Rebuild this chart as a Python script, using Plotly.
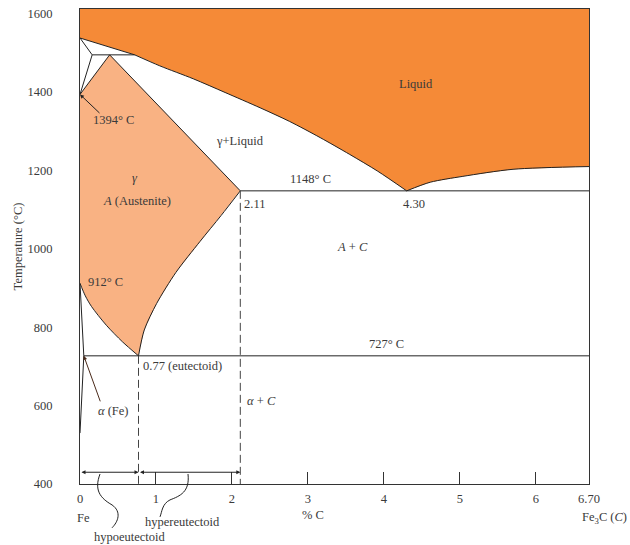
import plotly.graph_objects as go

# Iron–carbon (Fe–Fe3C) phase diagram, composition in wt% C, temperature in °C
C_MAX = 6.70
T_TOP = 1612

# Key invariant points
T_MELT_FE = 1538
T_PERITECTIC = 1495
T_DELTA_GAMMA = 1394
T_EUTECTIC = 1148
T_A3_FE = 912
T_EUTECTOID = 727
T_LINE = 430          # level of the hypo/hyper-eutectoid span arrows

C_DELTA_MAX = 0.16
C_PERITECTIC = 0.39
C_PERI_LIQ = 0.72
C_GAMMA_MAX = 2.11
C_EUTECTIC = 4.30
C_EUTECTOID = 0.77
C_ALPHA_MAX = 0.05
T_ALPHA_LOW = 530

# Liquidus, hypoeutectic branch (peritectic liquid -> eutectic)
liq_left_c = [C_PERI_LIQ, 1.05, 1.49, 1.91, 2.37, 2.76, 3.16, 3.55, 3.92, C_EUTECTIC]
liq_left_t = [T_PERITECTIC, 1467, 1434, 1399, 1360, 1325, 1284, 1241, 1198, T_EUTECTIC]
# Liquidus, hypereutectic branch (eutectic -> Fe3C)
liq_right_c = [C_EUTECTIC, 4.61, 5.04, 5.70, C_MAX]
liq_right_t = [T_EUTECTIC, 1170, 1185, 1203, 1210]

# Acm line: gamma solvus from 2.11 % down to the eutectoid point
acm_c = [C_GAMMA_MAX, 1.857, 1.58, 1.263, 1.01, 0.846, C_EUTECTOID]
acm_t = [T_EUTECTIC, 1085, 1019, 940, 861, 793, T_EUTECTOID]
# A3 line: from 912 °C down to the eutectoid point
a3_c = [0.0, 0.07, 0.151, 0.347, 0.558, C_EUTECTOID]
a3_t = [T_A3_FE, 880, 853, 805, 763, T_EUTECTOID]

x_tick_vals = [0, 1, 2, 3, 4, 5, 6, 6.70]
x_tick_text = ["0", "1", "2", "3", "4", "5", "6", "6.70"]
y_tick_vals = [400, 600, 800, 1000, 1200, 1400, 1600]

LIQ_COLOR = "#F58A37"
GAMMA_COLOR = "#F9B283"
LINE = "#222222"
TXT = "#3a3a3a"
FONT = "Liberation Serif"
FS = 12.5

fig = go.Figure()

# Liquid field (fill only; outlines drawn separately)
liq_poly_c = [0, 0] + liq_left_c + liq_right_c[1:] + [C_MAX, 0]
liq_poly_t = [T_TOP, T_MELT_FE] + liq_left_t + liq_right_t[1:] + [T_TOP, T_TOP]
fig.add_trace(go.Scatter(x=liq_poly_c, y=liq_poly_t, fill="toself", fillcolor=LIQ_COLOR,
                         mode="lines", line=dict(width=0), hoverinfo="skip"))

# Austenite (gamma) field
g_c = [0, C_PERITECTIC] + acm_c + a3_c[::-1][1:] + [0]
g_t = [T_DELTA_GAMMA, T_PERITECTIC] + acm_t + a3_t[::-1][1:] + [T_DELTA_GAMMA]
fig.add_trace(go.Scatter(x=g_c, y=g_t, fill="toself", fillcolor=GAMMA_COLOR,
                         mode="lines", line=dict(width=0), hoverinfo="skip"))

def seg(xs, ys, dash="solid", color=LINE, width=1, smooth=False):
    fig.add_trace(go.Scatter(x=xs, y=ys, mode="lines", hoverinfo="skip",
                             line=dict(color=color, width=width, dash=dash,
                                       shape="spline" if smooth else "linear",
                                       smoothing=0.8 if smooth else None)))

# Phase boundaries
seg(liq_left_c, liq_left_t, smooth=True)
seg(liq_right_c, liq_right_t, smooth=True)
seg(acm_c, acm_t, smooth=True)
seg(a3_c, a3_t, smooth=True)
seg([0, C_PERITECTIC, C_GAMMA_MAX], [T_DELTA_GAMMA, T_PERITECTIC, T_EUTECTIC])
# Delta-ferrite corner and peritectic
seg([0, C_DELTA_MAX, 0], [T_MELT_FE, T_PERITECTIC, T_DELTA_GAMMA])
seg([C_DELTA_MAX, C_PERI_LIQ], [T_PERITECTIC, T_PERITECTIC])
seg([C_PERI_LIQ, 0], [T_PERITECTIC, T_MELT_FE])
# Eutectic and eutectoid isotherms
seg([C_GAMMA_MAX, C_MAX], [T_EUTECTIC, T_EUTECTIC])
seg([C_ALPHA_MAX, C_MAX], [T_EUTECTOID, T_EUTECTOID])
# Alpha-ferrite boundaries
seg([0, C_ALPHA_MAX, 0], [T_A3_FE, T_EUTECTOID, T_ALPHA_LOW])
# Dashed composition markers
seg([C_EUTECTOID, C_EUTECTOID], [T_EUTECTOID, 400], dash="8px,4px", color="#444")
seg([C_GAMMA_MAX, C_GAMMA_MAX], [T_EUTECTIC, 400], dash="8px,4px", color="#444")

ann = []

def label(x, y, text, xanchor="center"):
    ann.append(dict(x=x, y=y, text=text, showarrow=False, xanchor=xanchor, yanchor="middle",
                    font=dict(family=FONT, size=FS, color=TXT)))

label(4.42, 1421, "Liquid")
label(2.10, 1274, "γ+Liquid")
label(3.03, 1178, "1148° C")
label(2.13, 1114, "2.11", xanchor="left")
label(4.39, 1114, "4.30")
label(3.59, 1005, "<i>A</i> + <i>C</i>")
label(0.72, 1180, "<i>γ</i>")
label(0.75, 1122, "<i>A</i> (Austenite)")
label(0.44, 1330, "1394° C")
label(0.34, 915, "912° C")
label(4.03, 756, "727° C")
label(0.80, 702, "0.77 (eutectoid)", xanchor="left")
label(2.39, 613, "<i>α</i> + <i>C</i>")
label(0.44, 586, "<i>α</i> (Fe)")

# Labels below the composition axis
def plabel(x, y, text):
    ann.append(dict(x=x, y=y, xref="paper", yref="paper", text=text, showarrow=False,
                    xanchor="center", yanchor="middle",
                    font=dict(family=FONT, size=FS, color=TXT)))

plabel(0.006, -0.071, "Fe")
plabel(0.458, -0.065, "% C")
plabel(1.031, -0.071, "Fe<sub>3</sub>C (<i>C</i>)")
plabel(0.202, -0.080, "hypereutectoid")
plabel(0.098, -0.111, "hypoeutectoid")

# Pointer arrows
ann.append(dict(x=0, y=T_DELTA_GAMMA, ax=21, ay=20, text="", showarrow=True,
                arrowhead=2, arrowsize=0.8, arrowwidth=1, arrowcolor=LINE))
ann.append(dict(x=C_ALPHA_MAX, y=T_EUTECTOID, ax=17, ay=47, text="", showarrow=True,
                arrowhead=2, arrowsize=0.8, arrowwidth=1, arrowcolor="#4a2a1a"))

# Span arrows for hypo- and hyper-eutectoid compositions
for a, b in [(0, C_EUTECTOID), (C_EUTECTOID, C_GAMMA_MAX)]:
    ann.append(dict(x=b, y=T_LINE, ax=a, ay=T_LINE, axref="x", ayref="y", text="",
                    showarrow=True, arrowside="end+start", arrowhead=2, arrowsize=0.8,
                    arrowwidth=1, arrowcolor=LINE))

shapes = [
    dict(type="path", xref="paper", yref="paper",
         path="M 0.0393 0.021 C 0.0275 -0.0126 0.0393 -0.0294 0.0629 -0.044 "
              "C 0.0825 -0.0587 0.0747 -0.0797 0.0629 -0.0922",
         line=dict(color=LINE, width=1)),
    dict(type="path", xref="paper", yref="paper",
         path="M 0.2122 0.021 C 0.2161 -0.0168 0.1965 -0.0252 0.1768 -0.0335 "
              "C 0.1611 -0.0419 0.1611 -0.0587 0.1572 -0.0692",
         line=dict(color=LINE, width=1)),
]

fig.update_layout(
    width=630, height=545,
    margin=dict(l=80, r=41, t=7, b=61),
    paper_bgcolor="white", plot_bgcolor="white",
    showlegend=False,
    annotations=ann, shapes=shapes,
    font=dict(family=FONT, size=FS, color=TXT),
    xaxis=dict(range=[0, C_MAX], showgrid=False, zeroline=False, showline=True, mirror=True,
               linecolor="#333", linewidth=1, ticks="inside", ticklen=12, tickcolor="#333",
               tickvals=x_tick_vals, ticktext=x_tick_text, ticklabelstandoff=3,
               tickfont=dict(family=FONT, size=FS, color=TXT)),
    yaxis=dict(range=[400, T_TOP], showgrid=False, zeroline=False, showline=True, mirror=True,
               linecolor="#333", linewidth=1, ticks="", tickvals=y_tick_vals,
               ticklabelstandoff=24, tickfont=dict(family=FONT, size=FS, color=TXT),
               title=dict(text="Temperature (°C)", standoff=2,
                          font=dict(family=FONT, size=FS, color=TXT))),
)

fig.write_html("out.html")
